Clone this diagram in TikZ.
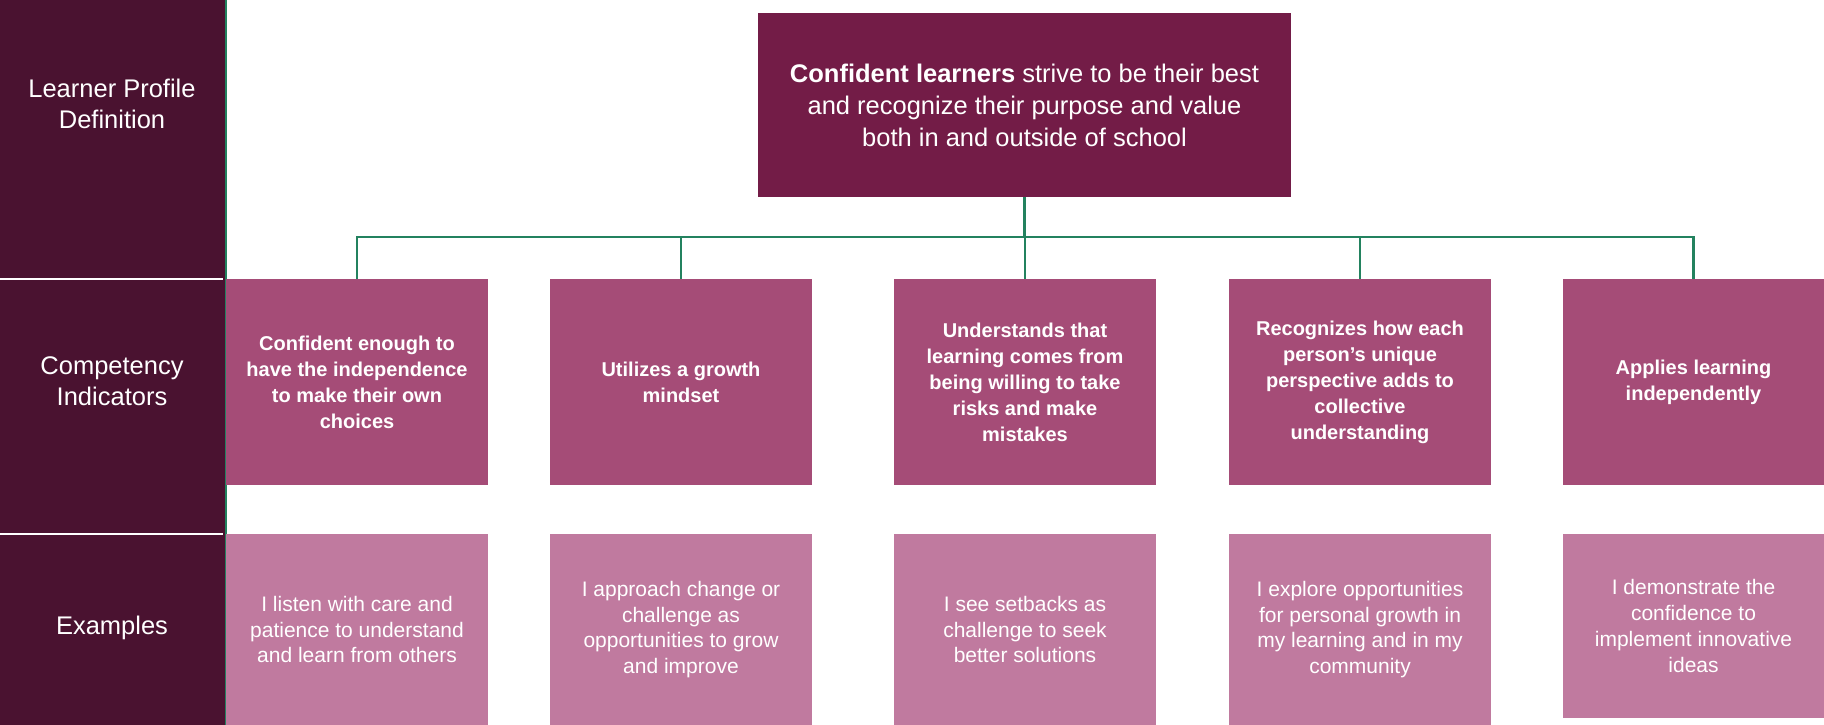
\documentclass[tikz,border=0pt]{standalone}
\usepackage{fontspec}
\setmainfont{Liberation Sans}
\usetikzlibrary{positioning}
\definecolor{sidecol}{HTML}{4A1230}
\definecolor{defcol}{HTML}{731C47}
\definecolor{indcol}{HTML}{A54C77}
\definecolor{excol}{HTML}{C07A9F}
\definecolor{linkcol}{HTML}{23825F}

\begin{document}
\begin{tikzpicture}[x=1pt, y=-1pt,
  defbox/.style={fill=defcol, text=white, minimum width=533pt, minimum height=184pt, inner sep=0pt, align=center, font=\fontsize{25.5}{32}\selectfont},
  indbox/.style={fill=indcol, text=white, minimum width=262pt, minimum height=206pt, inner sep=0pt, align=center, font=\fontsize{20}{26}\selectfont\bfseries},
  exbox/.style={fill=excol, text=white, minimum width=262pt, minimum height=191pt, inner sep=0pt, align=center, font=\fontsize{21}{25.7}\selectfont},
  rowlabel/.style={text=white, align=center, font=\fontsize{25.5}{31}\selectfont},
  link/.style={draw=linkcol, line width=2.2pt}
]
\useasboundingbox (0,0) rectangle (1824,725);

\fill[sidecol] (0,0) rectangle (225,725);
\draw[white, line width=2pt] (0,279) -- (223,279);
\draw[white, line width=2pt] (0,534) -- (223,534);
\draw[linkcol, line width=2pt] (226,0) -- (226,725);

\node[rowlabel] (lbldef) at (112,104) {Learner Profile\\Definition};
\node[rowlabel] (lblind) at (112,381) {Competency\\Indicators};
\node[rowlabel] (lblex) at (112,628) {Examples};

\node[defbox] (def) at (1024.5,105) {\textbf{Confident learners} strive to be their best\\and recognize their purpose and value\\both in and outside of school};

\node[indbox] (ind1) at (357,382) {Confident enough to\\have the independence\\to make their own\\choices};
\node[indbox] (ind2) at (681,382) {Utilizes a growth\\mindset};
\node[indbox] (ind3) at (1025,382) {Understands that\\learning comes from\\being willing to take\\risks and make\\mistakes};
\node[indbox] (ind4) at (1360,382) {Recognizes how each\\person’s unique\\perspective adds to\\collective\\understanding};
\node[indbox, minimum width=261pt] (ind5) at (1693.5,382) {Applies learning\\independently};

\node[exbox] (ex1) at (357,629.5) {I listen with care and\\patience to understand\\and learn from others};
\node[exbox] (ex2) at (681,629.5) {I approach change or\\challenge as\\opportunities to grow\\and improve};
\node[exbox] (ex3) at (1025,629.5) {I see setbacks as\\challenge to seek\\better solutions};
\node[exbox] (ex4) at (1360,629.5) {I explore opportunities\\for personal growth in\\my learning and in my\\community};
\node[exbox, minimum width=261pt, minimum height=184pt] (ex5) at (1693.5,626) {I demonstrate the\\confidence to\\implement innovative\\ideas};

\coordinate (bus) at (1025,237);
\foreach \i in {1,...,5}
  \draw[link] (def.south) -- (def.south |- bus) -| (ind\i.north);
\end{tikzpicture}
\end{document}
